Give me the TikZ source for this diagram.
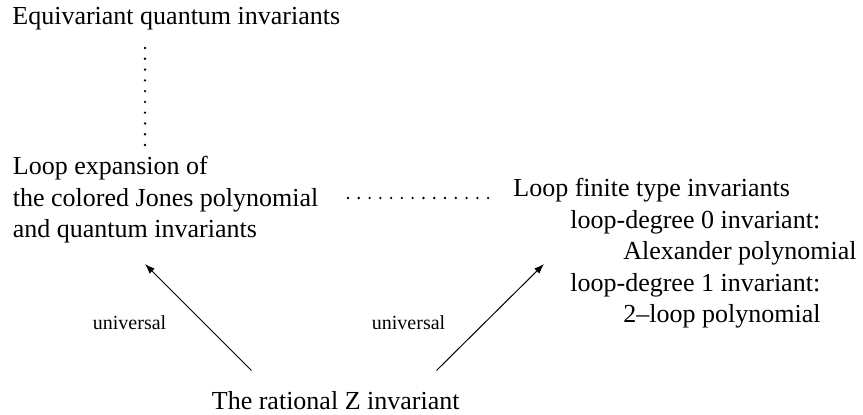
\documentclass[tikz,border=0pt]{standalone}
\usepackage{fontspec}
\setmainfont{Liberation Serif}
\usetikzlibrary{arrows.meta}
\begin{document}
\begin{tikzpicture}[x=0.5pt,y=-0.5pt,
  txt/.style={anchor=base west, inner sep=0pt, font=\fontsize{13pt}{15.75pt}\selectfont},
  lbl/.style={anchor=base west, inner sep=0pt, font=\fontsize{10pt}{12pt}\selectfont},
  dotline/.style={line width=1.3pt, line cap=round, dash pattern=on 0pt off 5.39pt},
  arr/.style={line width=0.5pt, -{Latex[length=5pt,width=3.6pt]}}]
\useasboundingbox (0,0) rectangle (863,415);
\node[txt] (eq) at (12,25) {Equivariant quantum invariants};
\node[txt] (le1) at (12.5,175) {Loop expansion of};
\node[txt] (le2) at (12.5,206.5) {the colored Jones polynomial};
\node[txt] (le3) at (12.5,238) {and quantum invariants};
\node[txt] (lf) at (513,197) {Loop finite type invariants};
\node[txt] (d0) at (570,228.5) {loop-degree 0 invariant:};
\node[txt] (ap) at (623,260) {Alexander polynomial};
\node[txt] (d1) at (570,291.5) {loop-degree 1 invariant:};
\node[txt] (tl) at (623,323) {2–loop polynomial};
\node[txt] (z) at (211.5,410) {The rational Z invariant};
\node[lbl] (u1) at (92.5,330) {universal};
\node[lbl] (u2) at (371.5,330) {universal};
\coordinate (vtop) at (145,48);
\coordinate (vbot) at (145,145.2);
\coordinate (hl) at (348,198);
\coordinate (hr) at (488.2,198);
\draw[dotline] (vtop) -- (vbot);
\draw[dotline] (hl) -- (hr);
\coordinate (a1s) at (251.5,370.5);
\coordinate (a1e) at (145,264);
\coordinate (a2s) at (436.5,370.5);
\coordinate (a2e) at (544,264);
\draw[arr] (a1s) -- (a1e);
\draw[arr] (a2s) -- (a2e);
\end{tikzpicture}
\end{document}
